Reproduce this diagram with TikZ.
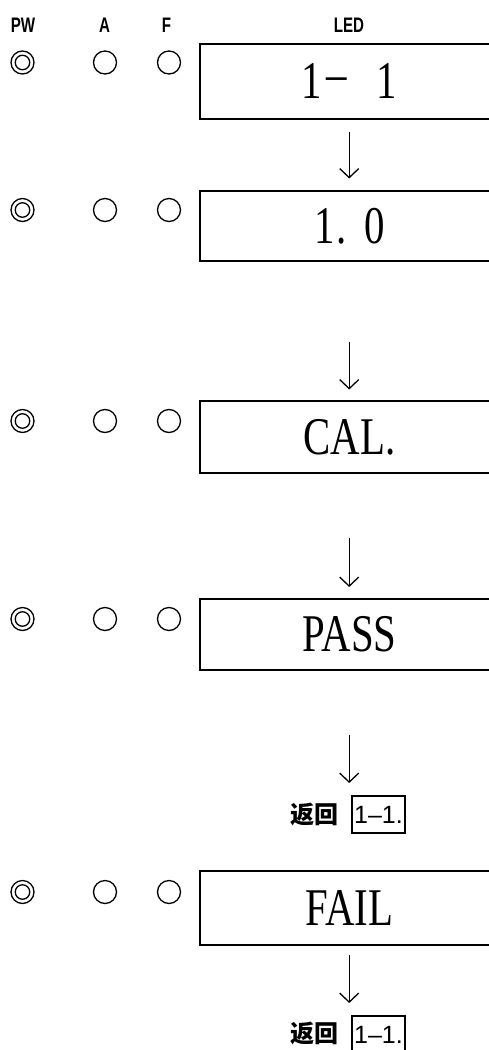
\documentclass[tikz,border=0pt]{standalone}
\usepackage{fontspec}
\usepackage{graphicx}
\setmainfont{Liberation Serif}
\newfontfamily\hdfont{Liberation Sans}
\newfontfamily\cjk{Noto Sans CJK SC}
\newfontfamily\retfont{Liberation Sans}
\usetikzlibrary{arrows.meta}
\newcommand{\cell}[2][c]{\makebox[32.5pt][#1]{#2}}
\begin{document}
\begin{tikzpicture}[x=1pt,y=-1pt,
  hdr/.style={inner sep=0pt,font=\hdfont\bfseries\fontsize{21}{21}\selectfont},
  led/.style={draw,line width=2pt,minimum width=300pt,inner sep=0pt,font=\fontsize{53}{53}\selectfont},
  lamp/.style={circle,draw,line width=1.3pt,minimum size=23pt,inner sep=0pt},
  inlamp/.style={circle,draw,line width=1.3pt,minimum size=14.5pt,inner sep=0pt},
  arr/.style={line width=1.4pt,-{Straight Barb[length=9pt,width=19pt,line width=1.3pt]}},
  rettxt/.style={inner sep=0pt,font=\cjk\bfseries\fontsize{24}{24}\selectfont},
  retbox/.style={draw,line width=2pt,minimum width=53pt,minimum height=36.3pt,inner sep=0pt,font=\retfont\fontsize{25}{25}\selectfont}
]
\useasboundingbox (0,0) rectangle (489,1050);
% headers
\node[hdr] (hPW) at (23,25.5) {\scalebox{0.72}[1]{PW}};
\node[hdr] (hA) at (104.5,25.5) {\scalebox{0.72}[1]{A}};
\node[hdr] (hF) at (166.5,25.5) {\scalebox{0.72}[1]{F}};
\node[hdr] (hLED) at (349,25.5) {\scalebox{0.72}[1]{LED}};
% rows: lamps
\foreach \i/\y in {1/62.5,2/210,3/421,4/619,5/892}{
  \node[lamp] (pw\i) at (22.5,\y) {};
  \node[inlamp] (pwi\i) at (22.5,\y) {};
  \node[lamp] (a\i) at (105,\y) {};
  \node[lamp] (f\i) at (169,\y) {};
}
% LED boxes
\node[led,minimum height=75pt] (b1) at (349.5,81.2)
  {\scalebox{0.77}[1]{\cell{1}\cell{\raisebox{7pt}{–}}\cell{}\cell{1}}};
\node[led,minimum height=70pt] (b2) at (349.5,226.3)
  {\scalebox{0.77}[1]{\cell{1}\cell[l]{.}\cell{0}}};
\node[led,minimum height=71.5pt] (b3) at (349.5,437)
  {\scalebox{0.77}[1]{CAL.}};
\node[led,minimum height=70.7pt] (b4) at (349.5,634.2)
  {\scalebox{0.77}[1]{PASS}};
\node[led,minimum height=73.4pt] (b5) at (349.5,908)
  {\scalebox{0.77}[1]{FAIL}};
% return labels
\node[rettxt] (ret1) at (314,815) {返回};
\node[retbox] (rb1) at (378.5,814.6) {1–1.};
\node[rettxt] (ret2) at (314,1033.5) {返回};
\node[retbox] (rb2) at (378.5,1034.4) {1–1.};
% arrow end points
\coordinate (s1) at (349.2,132);
\coordinate (e1) at (349.2,178.5);
\coordinate (s2) at (349.2,342);
\coordinate (e2) at (349.2,389.5);
\coordinate (s3) at (349.2,538);
\coordinate (e3) at (349.2,587);
\coordinate (s4) at (349.2,735);
\coordinate (e4) at (349.2,783);
\coordinate (s5) at (349.2,955);
\coordinate (e5) at (349.2,1003);
\draw[arr] (s1) -- (e1);
\draw[arr] (s2) -- (e2);
\draw[arr] (s3) -- (e3);
\draw[arr] (s4) -- (e4);
\draw[arr] (s5) -- (e5);
\end{tikzpicture}
\end{document}
